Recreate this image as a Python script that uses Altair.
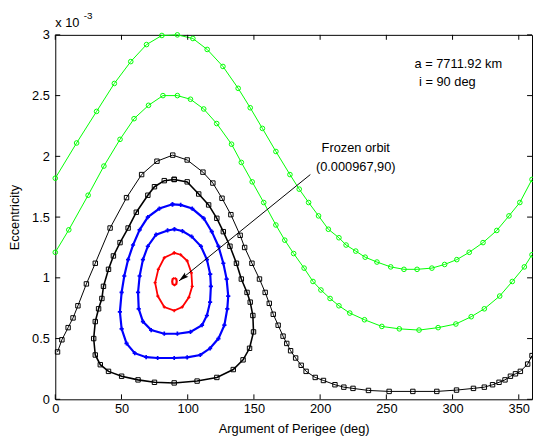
import altair as alt
import pandas as pd

# ---------------- data (omega in deg, eccentricity in units of 1e-3) ----------------
g1_w = [0, 16.1, 31.2, 44.6, 57.0, 68.9, 80.5, 92.2, 103.9, 114.7, 126.6, 138.1, 147.2, 156.4,
        166.6, 177.2, 184.2, 191.3, 198.8, 206.2, 214.2, 219.6, 226.9, 234.0, 242.9, 253.3,
        263.3, 273.2, 284.4, 294.0, 303.2, 312.6, 323.0, 333.4, 342.6, 350.8, 360]
g1_e = [1.82, 2.11, 2.37, 2.60, 2.78, 2.92, 2.995, 3.0, 2.97, 2.88, 2.74, 2.56, 2.40, 2.23,
        2.04, 1.85, 1.73, 1.62, 1.51, 1.40, 1.33, 1.27, 1.22, 1.17, 1.13, 1.09,
        1.07, 1.07, 1.08, 1.11, 1.15, 1.21, 1.29, 1.39, 1.51, 1.62, 1.81]

g2_w = [0, 10.2, 24.8, 36.7, 48.9, 59.5, 70.4, 81.3, 92.2, 102.1, 112.1, 121.9, 133.1, 140.5,
        148.7, 157.4, 166.6, 173.3, 180.0, 187.9, 194.6, 200.6, 207.5, 214.2, 222.4, 233.5,
        246.6, 259.8, 274.7, 289.1, 302.5, 314.1, 324.0, 335.6, 345.1, 354.2, 360]
g2_e = [1.21, 1.395, 1.68, 1.92, 2.14, 2.31, 2.42, 2.50, 2.50, 2.47, 2.39, 2.27, 2.10, 1.95,
        1.79, 1.62, 1.435, 1.31, 1.20, 1.08, 0.97, 0.90, 0.83, 0.77, 0.71, 0.655,
        0.60, 0.58, 0.57, 0.59, 0.62, 0.68, 0.745, 0.85, 0.97, 1.09, 1.19]

k1_w = [1.7, 5.0, 9.7, 13.4, 17.1, 23.5, 30.2, 41.4, 53.8, 65.2, 76.8, 88.7, 99.6, 111.5, 119.0,
        125.9, 132.6, 139.6, 143.0, 148.5, 154.2, 158.5, 161.6, 164.6, 168.3, 172.0, 174.8,
        177.7, 181.5, 185.7, 189.4, 196.3, 202.5, 211.2, 217.9, 224.8, 236.5, 252.1, 270.0,
        288.1, 303.0, 315.8, 324.0, 330.2, 335.1, 339.6, 343.7, 347.5, 351.2, 356.7, 360]
k1_e = [0.39, 0.49, 0.59, 0.67, 0.77, 0.95, 1.12, 1.41, 1.66, 1.85, 1.96, 2.01, 1.97, 1.87, 1.78,
        1.655, 1.52, 1.35, 1.25, 1.12, 0.99, 0.88, 0.79, 0.70, 0.61, 0.52, 0.46,
        0.40, 0.34, 0.28, 0.23, 0.18, 0.155, 0.12, 0.10, 0.09, 0.073, 0.065, 0.065,
        0.065, 0.076, 0.09, 0.10, 0.12, 0.14, 0.16, 0.19, 0.21, 0.23, 0.29, 0.36]

k2_w = [89.8, 82.3, 74.9, 69.9, 61.2, 55.0, 48.9, 43.9, 40.2, 36.4, 35.2, 32.7, 30.2, 29.0,
        30.2, 34.0, 40.2, 50.1, 62.5, 74.9, 89.8, 107.1, 122.0, 134.4, 141.8, 146.7, 149.7,
        149.2, 147.2, 144.8, 140.5, 136.8, 131.9, 126.9, 122.0, 115.8, 108.3, 99.6, 89.8]
k2_e = [1.81, 1.80, 1.75, 1.68, 1.54, 1.41, 1.29, 1.18, 1.07, 0.93, 0.83, 0.745, 0.64, 0.50,
        0.365, 0.285, 0.23, 0.19, 0.16, 0.14, 0.135, 0.15, 0.18, 0.245, 0.325, 0.42, 0.555,
        0.69, 0.80, 0.88, 0.99, 1.12, 1.26, 1.38, 1.49, 1.60, 1.69, 1.79, 1.81]

b1_w = [88.5, 78.6, 69.9, 63.7, 58.7, 55.0, 52.1, 50.1, 48.8, 50.1, 53.8, 60.0, 68.6, 77.3,
        89.8, 99.6, 109.5, 116.9, 123.2, 127.7, 129.9, 130.6, 129.4, 126.9, 123.2, 118.2,
        112.1, 103.4, 94.7, 88.5]
b1_e = [1.605, 1.57, 1.50, 1.395, 1.27, 1.15, 1.015, 0.88, 0.72, 0.58, 0.46, 0.38, 0.347, 0.34,
        0.34, 0.345, 0.365, 0.42, 0.50, 0.61, 0.745, 0.85, 0.99, 1.12, 1.26, 1.38,
        1.49, 1.57, 1.60, 1.605]

b2_w = [90.0, 84.8, 76.1, 69.9, 66.2, 63.7, 62.5, 63.0, 66.2, 72.4, 82.3, 92.2, 102.1, 110.8,
        114.5, 116.9, 117.5, 117.0, 114.5, 110.0, 103.0, 96.0, 90.0]
b2_e = [1.40, 1.39, 1.355, 1.26, 1.15, 1.015, 0.88, 0.745, 0.64, 0.57, 0.54, 0.54, 0.555, 0.61,
        0.69, 0.80, 0.93, 1.03, 1.15, 1.26, 1.34, 1.385, 1.40]

r1_w = [89.8, 82.3, 77.8, 75.4, 77.4, 82.3, 89.8, 95.9, 100.9, 103.4, 102.8, 99.6, 94.7, 89.8]
r1_e = [1.205, 1.165, 1.07, 0.96, 0.85, 0.76, 0.73, 0.76, 0.84, 0.93, 1.04, 1.14, 1.19, 1.205]

r2_w = [90.0, 88.6, 88.3, 88.6, 90.0, 91.4, 91.7, 91.4, 90.0]
r2_e = [1.00, 0.99, 0.97, 0.95, 0.94, 0.95, 0.97, 0.99, 1.00]

x_ticks = [0, 50, 100, 150, 200, 250, 300, 350]
y_ticks = [0, 0.5, 1, 1.5, 2, 2.5, 3]

arrow_start = (192.6, 1.85)
arrow_tip = (93.5, 0.975)
arrow_head = (97.1, 1.007)

FONT = "Liberation Sans"
W, H = 484, 370


def sdf(w, e):
    return pd.DataFrame({"w": w, "e": e, "i": list(range(len(w)))})


xs = alt.Scale(domain=[0, 360], nice=False, zero=False)
ys = alt.Scale(domain=[0, 3], nice=False, zero=False)
axis_common = dict(grid=False, domain=False, ticks=False, tickSize=0,
                   labelFlush=False, labelOverlap=False,
                   labelFont=FONT, labelFontSize=13, labelColor="black",
                   titleFont=FONT, titleFontSize=13, titleFontWeight="normal", titleColor="black")
xaxis = alt.Axis(values=x_ticks, format="d", labelPadding=3,
                 title="Argument of Perigee (deg)", titleX=242, titleY=30,
                 titleBaseline="middle", titleAlign="center", **axis_common)
yaxis = alt.Axis(values=y_ticks, format=".1~f", labelPadding=6,
                 title="Eccentricity", titleX=-41, titleY=185,
                 titleBaseline="middle", titleAlign="center", titleAngle=270, **axis_common)
X = alt.X("w:Q", scale=xs, axis=xaxis)
Y = alt.Y("e:Q", scale=ys, axis=yaxis)


def curve(df, color, width, shape=None, size=20, filled=False, pstroke=1.0):
    base = alt.Chart(df)
    line = base.mark_line(color=color, strokeWidth=width).encode(x=X, y=Y, order=alt.Order("i:Q"))
    layers = [line]
    if shape is not None:
        if filled:
            pts = base.mark_point(shape=shape, size=size, filled=True, color=color, opacity=1)
        else:
            pts = base.mark_point(shape=shape, size=size, filled=False, color=color,
                                  strokeWidth=pstroke, opacity=1)
        layers.append(pts.encode(x=X, y=Y))
    return layers


GREEN = "#00ff00"
layers = []
layers += curve(sdf(g1_w, g1_e), GREEN, 1, "circle", 22)
layers += curve(sdf(g2_w, g2_e), GREEN, 1, "circle", 22)
layers += curve(sdf(k1_w, k1_e), "black", 1, "square", 20)
layers += curve(sdf(k2_w, k2_e), "black", 1.6, "square", 20)
layers += curve(sdf(b1_w, b1_e), "#0000ff", 2.2, "cross", 18, True)
layers += curve(sdf(b2_w, b2_e), "#0000ff", 2.2, "cross", 18, True)
layers += curve(sdf(r1_w, r1_e), "#ff0000", 1.8, "cross", 10, True)
layers += curve(sdf(r2_w, r2_e), "#ff0000", 2.2)

# tick marks (inward, on all four sides)
xt = pd.DataFrame({"w": x_ticks})
yt = pd.DataFrame({"e": y_ticks})
layers.append(alt.Chart(xt).mark_rule(color="black", strokeWidth=1).encode(
    x=X, y=alt.value(H), y2=alt.value(H - 5)))
layers.append(alt.Chart(xt).mark_rule(color="black", strokeWidth=1).encode(
    x=X, y=alt.value(0), y2=alt.value(5)))
layers.append(alt.Chart(yt).mark_rule(color="black", strokeWidth=1).encode(
    y=Y, x=alt.value(0), x2=alt.value(5)))
layers.append(alt.Chart(yt).mark_rule(color="black", strokeWidth=1).encode(
    y=Y, x=alt.value(W), x2=alt.value(W - 5)))

# arrow annotation
arr = pd.DataFrame({"w": [arrow_start[0]], "e": [arrow_start[1]],
                    "w2": [arrow_tip[0]], "e2": [arrow_tip[1]]})
layers.append(alt.Chart(arr).mark_rule(color="black", strokeWidth=1).encode(
    x=X, y=Y, x2="w2:Q", y2="e2:Q"))
head = pd.DataFrame({"w": [arrow_head[0]], "e": [arrow_head[1]]})
layers.append(alt.Chart(head).mark_point(
    shape="M0,-1L0.45,0.6L0,0.3L-0.45,0.6Z", angle=231, size=156, filled=True,
    color="black", opacity=1).encode(x=X, y=Y))

# texts
txt = pd.DataFrame({
    "w": [226.9, 226.9, 271.3, 274.7],
    "e": [2.068, 1.914, 2.757, 2.61],
    "t": ["Frozen orbit", "(0.000967,90)", "a = 7711.92 km", "i = 90 deg"],
    "a": ["center", "center", "left", "left"],
})
for k in range(len(txt)):
    layers.append(alt.Chart(txt.iloc[[k]]).mark_text(
        font=FONT, fontSize=13, color="black", align=txt["a"][k], baseline="middle").encode(
        x=X, y=Y, text="t:N"))

one = pd.DataFrame({"d": [0]})
layers.append(alt.Chart(one).mark_text(font=FONT, fontSize=13, color="black", align="left",
                                       baseline="middle", text="x 10").encode(
    x=alt.value(0), y=alt.value(-12)))
layers.append(alt.Chart(one).mark_text(font=FONT, fontSize=10, color="black", align="left",
                                       baseline="middle", text="-3").encode(
    x=alt.value(29), y=alt.value(-19)))

chart = alt.layer(*layers).properties(
    width=W, height=H,
    background="white",
    autosize=alt.AutoSizeParams(type="none"),
    padding={"left": 48, "top": 24, "right": 1, "bottom": 36},
).configure_view(stroke="black", strokeWidth=1)

chart.save("out.html", embed_options={"renderer": "svg", "actions": False})
